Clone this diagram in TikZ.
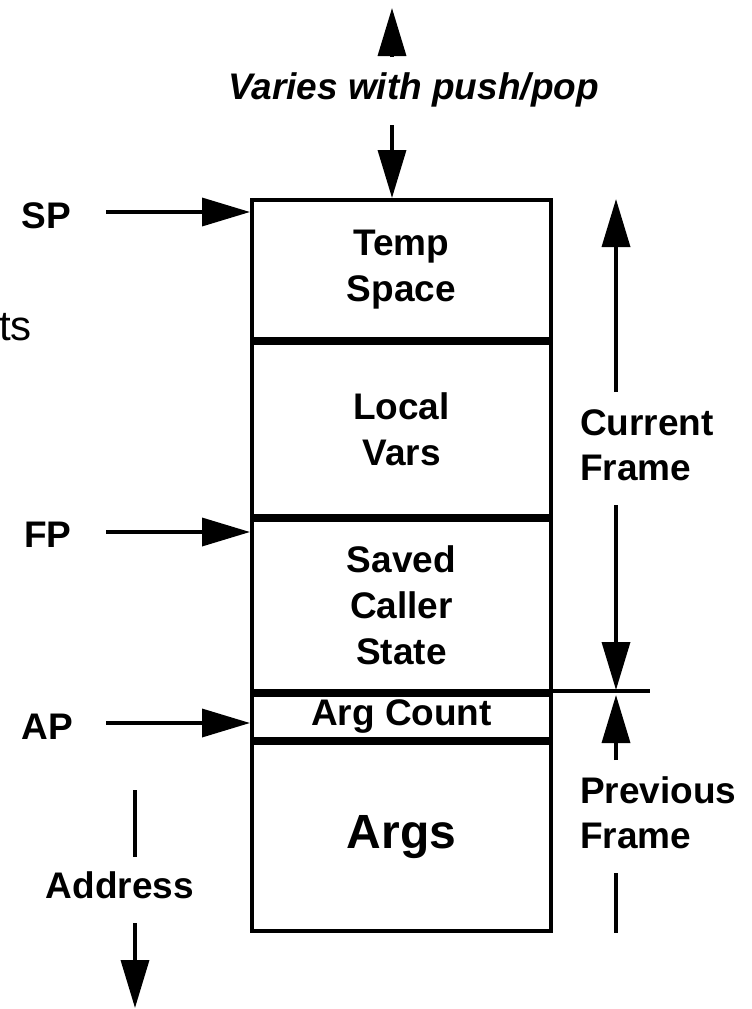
\documentclass[tikz,border=0pt]{standalone}
\usepackage{fontspec}
\setmainfont{Liberation Sans}
\usetikzlibrary{arrows.meta}
\begin{document}
\begin{tikzpicture}[x=1pt,y=-1pt,
  lbl/.style={font=\fontsize{37}{46}\selectfont\bfseries, inner sep=0pt},
  cell/.style={draw, line width=4pt, minimum width=299pt, inner sep=0pt, align=center,
               font=\fontsize{37}{46}\selectfont\bfseries},
  arr/.style={line width=3.5pt, -{Triangle[length=48pt,width=28pt]}},
  plainline/.style={line width=3.5pt}]
\useasboundingbox (0,0) rectangle (752,1009);

% stack cells
\node[cell, minimum height=139pt] (temp) at (401.5,269.5) {Temp\\Space};
\node[cell, minimum height=172.5pt] (local) at (401.5,429.25) {Local\\Vars};
\node[cell, minimum height=171.5pt] (saved) at (401.5,605.25) {Saved\\Caller\\State};
\node[cell, minimum height=43.5pt] (argc) at (401.5,716.75) {Arg Count};
\node[cell, minimum height=188.5pt, font=\fontsize{48}{56}\selectfont\bfseries] (args) at (401.5,836.75) {Args};

% fragment at left edge
\node[font=\fontsize{42}{50}\selectfont, anchor=base east, inner sep=0pt] (ts) at (32,340) {ts};

% top push/pop
\node[font=\fontsize{37}{46}\selectfont\bfseries\itshape, anchor=base, inner sep=0pt] (varies) at (413.5,99) {Varies with push/pop};
\coordinate (upS) at (392,57);
\coordinate (upE) at (392,8);
\draw[arr] (upS) -- (upE);
\coordinate (dnS) at (392,125);
\draw[arr] (dnS) -- (dnS |- temp.north);

% pointers
\node[lbl, anchor=base] (sp) at (46,228) {SP};
\node[lbl, anchor=base] (fp) at (48,547) {FP};
\node[lbl, anchor=base] (ap) at (47,739) {AP};
\coordinate (spA) at (106,212);
\coordinate (fpA) at (106,532);
\coordinate (apA) at (106,723);
\draw[arr] (spA) -- (spA -| temp.west);
\draw[arr] (fpA) -- (fpA -| saved.west);
\draw[arr] (apA) -- (apA -| argc.west);

% current frame
\coordinate (cfTop) at (616,199);
\coordinate (cfA) at (616,392);
\coordinate (cfB) at (616,505);
\coordinate (cfBot) at (616,690);
\draw[arr] (cfA) -- (cfTop);
\draw[arr] (cfB) -- (cfBot);
\node[lbl, anchor=base west] (cur1) at (580,435) {Current};
\node[lbl, anchor=base west] (cur2) at (580,480) {Frame};

% separator
\coordinate (sepR) at (650,691);
\draw[plainline] (saved.south east |- sepR) -- (sepR);

% previous frame
\coordinate (pfTop) at (616,695);
\coordinate (pfA) at (616,760);
\draw[arr] (pfA) -- (pfTop);
\node[lbl, anchor=base west] (prev1) at (580,803) {Previous};
\node[lbl, anchor=base west] (prev2) at (580,848) {Frame};
\coordinate (pfB) at (616,873);
\coordinate (pfBot) at (616,933);
\draw[plainline] (pfB) -- (pfBot);

% address
\coordinate (adA) at (135,790);
\coordinate (adB) at (135,857);
\draw[plainline] (adA) -- (adB);
\node[lbl, anchor=base] (addr) at (120,898) {Address};
\coordinate (adC) at (135,923);
\coordinate (adD) at (135,1008);
\draw[arr] (adC) -- (adD);
\end{tikzpicture}
\end{document}
